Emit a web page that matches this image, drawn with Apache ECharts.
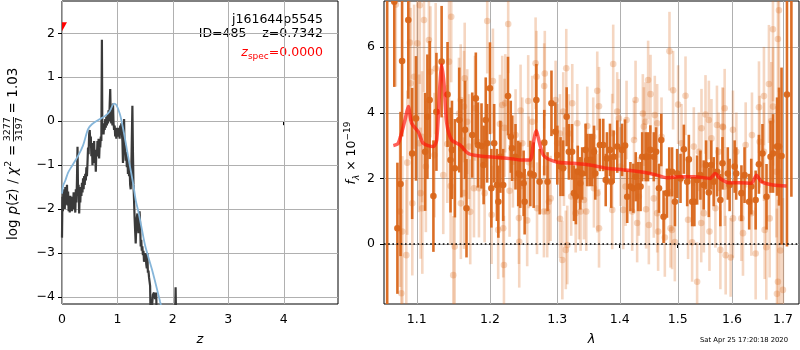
<!DOCTYPE html>
<html>
<head>
<meta charset="utf-8">
<script src="https://cdn.jsdelivr.net/npm/echarts@6/dist/echarts.min.js"></script>
<style>
  html, body { margin: 0; padding: 0; background: #fff; }
  #chart { width: 800px; height: 350px; }
</style>
</head>
<body>
<div id="chart"></div>
<script>
// ---- redshift probability, left panel ----
const zTicks = [0, 1, 2, 3, 4];
const logpTicks = [-4, -3, -2, -1, 0, 1, 2];

const zGrid = [
  0.000, 0.008, 0.016, 0.024, 0.032, 0.040, 0.050, 0.060, 0.070, 0.080,
  0.090, 0.100, 0.110, 0.120, 0.130, 0.140, 0.150, 0.160, 0.170, 0.180,
  0.190, 0.200, 0.210, 0.220, 0.230, 0.240, 0.250, 0.260, 0.270, 0.280,
  0.290, 0.300, 0.310, 0.320, 0.330, 0.340, 0.350, 0.360, 0.370, 0.380,
  0.390, 0.400, 0.410, 0.420, 0.430, 0.440, 0.450, 0.460, 0.470, 0.480,
  0.490, 0.500, 0.510, 0.520, 0.530, 0.540, 0.550, 0.560, 0.570, 0.580,
  0.590, 0.600, 0.610, 0.620, 0.630, 0.640, 0.650, 0.660, 0.670, 0.680,
  0.690, 0.700, 0.710, 0.720, 0.728, 0.740, 0.750, 0.760, 0.770, 0.780,
  0.790, 0.800, 0.810, 0.820, 0.830, 0.840, 0.850, 0.860, 0.870, 0.880,
  0.890, 0.900, 0.910, 0.920, 0.930, 0.940, 0.950, 0.960, 0.970, 0.980,
  0.990, 1.000, 1.010, 1.020, 1.030, 1.040, 1.050, 1.060, 1.070, 1.080,
  1.090, 1.100, 1.110, 1.120, 1.130, 1.140, 1.150, 1.160, 1.170, 1.180,
  1.190, 1.200, 1.210, 1.220, 1.230, 1.240, 1.250, 1.260, 1.270, 1.280,
  1.290, 1.300, 1.310, 1.320, 1.330, 1.340, 1.350, 1.360, 1.370, 1.380,
  1.390, 1.400, 1.410, 1.420, 1.430, 1.440, 1.450, 1.460, 1.470, 1.480,
  1.490, 1.500, 1.510, 1.520, 1.530, 1.540, 1.550, 1.560, 1.570, 1.580,
  1.590, 1.600, 1.620, 1.640, 1.660, 1.680, 1.700, 1.710, 1.800, 1.900,
  2.000, 2.040, 2.050, 2.060, 2.200
];
const logPz = [
  -2.65, -1.72, -2.05, -1.62, -1.95, -1.55, -2.00, -1.50, -1.90, -1.62,
  -1.45, -1.92, -1.60, -2.05, -1.75, -2.08, -1.70, -1.98, -1.78, -2.05,
  -1.72, -1.95, -1.62, -2.00, -1.80, -2.08, -1.55, -1.85, -1.35, -0.58,
  -1.70, -1.45, -2.10, -1.60, -1.85, -1.50, -1.70, -1.40, -1.62, -1.30,
  -1.55, -1.25, -1.45, -1.20, -1.35, -1.05, -1.25, -0.95, -0.60, -0.75,
  -0.30, -0.20, -0.45, -0.35, -0.80, -0.50, -1.00, -0.55, -0.85, -0.45,
  -0.95, -0.75, -1.15, -0.65, -0.80, -0.45, -0.70, -0.40, -0.85, -0.50,
  -0.60, -0.35, -0.45, 1.85, -0.30, -0.05, -0.30, -0.10, -0.20, 0.05,
  -0.15, 0.10, -0.10, 0.15, -0.05, 0.25, 0.00, 0.35, 0.73, 0.05,
  -0.05, 0.20, -0.10, 0.40, -0.05, -0.20, -0.10, -0.35, -0.15, -0.40,
  -0.20, -0.30, -0.15, -0.35, -0.20, -0.40, -0.10, -0.30, -0.05, -0.25,
  -0.45, -0.95, -0.60, 0.05, -0.75, -0.55, -0.90, -0.70, -1.05, -0.80,
  -1.20, -0.90, -1.25, -1.05, -1.45, -1.55, -1.20, -0.40, 0.35, -0.70,
  -1.45, -1.80, -2.20, -2.50, -2.78, -2.40, -2.20, -2.10, -2.30, -2.55,
  -2.20, -2.05, -2.35, -2.85, -2.70, -2.95, -2.85, -3.05, -2.95, -3.20,
  -3.05, -3.15, -3.00, -3.25, -3.35, -3.00, -3.45, -3.40, -3.55, -3.65,
  -3.75, -4.60, -4.60, -3.95, -3.90, -4.05, -3.90, -4.60, -4.80, -4.80,
  -4.80, -4.60, -3.78, -4.60, -4.80
];

const zSmooth = [
  0.00, 0.02, 0.06, 0.11, 0.18, 0.29, 0.38, 0.47, 0.54, 0.66,
  0.78, 0.86, 0.94, 0.98, 1.04, 1.08, 1.13, 1.17, 1.23, 1.29,
  1.33, 1.38, 1.44, 1.50, 1.56, 1.62, 1.70, 1.77, 1.85
];
const logPzSmooth = [
  -1.65, -1.47, -1.35, -1.17, -1.02, -0.79, -0.55, -0.18, -0.07, 0.03,
  0.12, 0.22, 0.40, 0.37, 0.18, -0.03, -0.35, -0.64, -1.05, -1.47,
  -1.80, -2.07, -2.45, -2.83, -3.10, -3.36, -3.75, -4.11, -4.50
];
const zSpec = 0.0;

// ---- 1D spectrum, right panel ----
const lamTicks = [1.1, 1.2, 1.3, 1.4, 1.5, 1.6, 1.7];
const fluxTicks = [0, 2, 4, 6];

// spectrum bins with good weight
const specLam = [
  1.062, 1.071, 1.075, 1.079, 1.081, 1.089, 1.094, 1.099, 1.111, 1.114,
  1.117, 1.122, 1.126, 1.133, 1.141, 1.145, 1.147, 1.151, 1.157, 1.160,
  1.165, 1.167,
  1.175, 1.180, 1.183, 1.188, 1.191, 1.194, 1.196, 1.200, 1.202, 1.206,
  1.210, 1.212, 1.215, 1.219, 1.226, 1.230, 1.232, 1.237, 1.241, 1.244,
  1.249, 1.2505, 1.259, 1.264, 1.268, 1.273, 1.280, 1.285, 1.291,
  1.297, 1.300, 1.305, 1.309, 1.3145, 1.318, 1.323, 1.326, 1.329, 1.332,
  1.336, 1.339, 1.3445, 1.347, 1.351, 1.355, 1.358, 1.360, 1.3675, 1.373,
  1.377, 1.379, 1.384, 1.386, 1.390, 1.396, 1.404, 1.409, 1.4126, 1.418,
  1.423, 1.427, 1.431,
  1.4352, 1.438, 1.444, 1.448, 1.452, 1.458, 1.462, 1.467, 1.471, 1.475,
  1.481, 1.485, 1.490, 1.495, 1.499, 1.505, 1.511, 1.517, 1.520, 1.526,
  1.530, 1.535, 1.541, 1.547, 1.5515, 1.5565, 1.561, 1.5655, 1.572, 1.578,
  1.582,
  1.592, 1.5955, 1.605, 1.608, 1.618, 1.624, 1.633, 1.637, 1.6456, 1.652,
  1.659, 1.667, 1.675, 1.680, 1.688, 1.692, 1.697, 1.708, 1.717
];
const specFlux = [
  10.0, 7.39, 0.48, 1.83, 5.58, 6.83, 2.76, 3.83, 2.81, 3.88,
  4.39, 1.46, 4.03, 5.56, 4.56, 2.56, 2.87, 2.31, 3.78, 2.92,
  3.48, 1.09,
  3.32, 4.44, 3.02, 2.99, 2.41, 3.78, 3.07, 4.75, 1.70, 3.07,
  1.80, 1.29, 2.66, 1.80, 4.51, 3.27, 2.92, 2.66, 2.15, 2.10,
  1.85, 1.29, 2.15, 2.10, 4.39, 1.90, 3.09, 1.90, 4.29,
  3.42, 2.71, 2.36, 2.31, 3.88, 2.81, 2.81, 1.55, 1.45, 2.20,
  1.85, 2.15, 2.87, 2.56, 2.56, 2.56, 2.81, 2.15, 3.02, 3.02,
  1.95, 2.61, 2.87, 1.90, 2.66, 2.97, 2.87, 3.00, 1.44, 1.75,
  1.70, 2.05, 1.75,
  1.75, 2.66, 2.66, 2.66, 2.87, 2.66, 2.81, 1.70, 3.17, 0.83,
  1.55, 2.20, 2.20, 1.29, 2.15, 2.00, 2.89, 1.90, 2.58, 1.29,
  1.29, 1.95, 2.10, 1.80, 2.41, 1.57, 2.41, 1.90, 2.20, 1.34,
  2.46,
  2.15, 1.80, 2.36, 2.15, 1.55, 2.10, 1.29, 1.75, 1.34, 2.43,
  2.76, 1.44, 2.66, 2.76, 2.97, 2.97, 2.68, 4.56, 9.20
];
const specErr = [
  13.0, 2.6, 2.0, 2.2, 2.3, 2.4, 2.0, 1.9, 1.8, 1.9,
  1.8, 1.7, 1.8, 1.7, 1.6, 1.6, 1.5, 1.5, 1.6, 1.5,
  1.5, 1.5,
  1.3, 1.4, 1.3, 1.3, 1.2, 1.3, 1.2, 1.4, 1.2, 1.2,
  1.1, 1.1, 1.1, 1.1, 1.2, 1.1, 1.0, 1.0, 1.0, 1.0,
  1.0, 1.0, 1.0, 1.0, 1.1, 1.0, 1.0, 0.9, 1.0,
  0.9, 0.9, 0.9, 0.85, 0.9, 0.85, 0.85, 0.85, 0.85, 0.8,
  0.8, 0.8, 0.8, 0.8, 0.8, 0.8, 0.8, 0.8, 0.8, 0.8,
  0.8, 0.8, 0.8, 0.8, 0.8, 0.8, 0.8, 0.8, 0.8, 0.75,
  0.75, 0.75, 0.75,
  0.75, 0.75, 0.75, 0.75, 0.75, 0.75, 0.75, 0.75, 0.8, 0.8,
  0.75, 0.75, 0.75, 0.75, 0.75, 0.75, 0.75, 0.75, 0.75, 0.75,
  0.75, 0.75, 0.75, 0.75, 0.75, 0.75, 0.75, 0.75, 0.75, 0.8,
  0.8,
  0.8, 0.8, 0.8, 0.8, 0.85, 0.85, 0.85, 0.85, 0.9, 0.9,
  0.9, 1.0, 1.1, 1.2, 1.5, 1.8, 2.7, 4.64, 7.76
];

// remaining (down-weighted) bins
const bgLam = [
  1.073, 1.1095, 1.104, 1.146, 1.091, 1.1007, 1.116, 1.092, 1.0965, 1.118,
  1.125, 1.143, 1.1645, 1.159, 1.1635, 1.1566, 1.168, 1.103, 1.107, 1.1406,
  1.1234, 1.1352, 1.0877, 1.112, 1.1452, 1.105, 1.1073, 1.0783, 1.0813, 1.0942,
  1.1592, 1.1636, 1.0864, 1.1507, 1.1488, 1.0800,
  1.1961, 1.2263, 1.2042, 1.2669, 1.2682, 1.2799, 1.2808, 1.1788, 1.2176, 1.2220,
  1.2558, 1.2445, 1.2618, 1.2143, 1.2210, 1.2371, 1.2470, 1.1706, 1.2332, 1.2567,
  1.1774, 1.1844, 1.1924, 1.2283, 1.2897, 1.2871, 1.1722, 1.2024, 1.2420, 1.2543,
  1.2690, 1.2795, 1.2845, 1.2118, 1.2191, 1.2425, 1.2201,
  1.3139, 1.3893, 1.3632, 1.3660, 1.2974, 1.3233, 1.3092, 1.3959, 1.4267, 1.4115,
  1.3312, 1.3471, 1.3987, 1.3041, 1.3181, 1.3567, 1.3876, 1.4241, 1.2999, 1.4015,
  1.3103, 1.3634, 1.3578, 1.3216, 1.3338, 1.3418, 1.4099, 1.4210, 1.4059, 1.3877,
  1.3287, 1.3365, 1.3455, 1.3042, 1.3661, 1.4294, 1.3155, 1.3132, 1.3078,
  1.4854, 1.4918, 1.5140, 1.4482, 1.4523, 1.5007, 1.4391, 1.4437, 1.4408, 1.4638,
  1.4714, 1.4597, 1.5504, 1.5430, 1.5566, 1.5716, 1.5823, 1.5068, 1.5290, 1.5381,
  1.5614, 1.5748, 1.4323, 1.4447, 1.4494, 1.4580, 1.4639, 1.4772, 1.4872, 1.4900,
  1.4949, 1.4655, 1.5186, 1.5425, 1.5577, 1.5259, 1.5350, 1.5780, 1.5687, 1.5473,
  1.6918, 1.6798, 1.6897, 1.6718, 1.6619, 1.6800, 1.6521, 1.5861, 1.5829, 1.6018,
  1.6384, 1.6765, 1.6262, 1.6534, 1.6083, 1.6620, 1.6866, 1.5862, 1.6019, 1.6179,
  1.6372, 1.6633, 1.6210, 1.6732, 1.5880, 1.5974, 1.6456, 1.6666, 1.6945, 1.6898,
  1.6878, 1.6998
];
const bgFlux = [
  7.30, 6.83, 7.28, 6.93, 6.14, 6.12, 6.22, 4.90, 5.10, 5.25,
  5.35, 5.56, 5.05, 4.39, 4.19, 3.98, 3.73, 3.07, 3.27, 3.05,
  2.71, 2.10, 2.48, 2.36, 1.77, 1.55, 1.09, 0.99, 0.38, 1.24,
  1.24, 1.55, -0.34, -0.08, -0.95, -1.50,
  6.80, 6.71, 4.97, 5.51, 5.10, 4.82, 5.20, 4.14, 4.24, 4.29,
  4.36, 4.07, 3.73, 3.66, 3.54, 3.32, 3.07, 2.97, 2.51, 2.49,
  1.70, 1.70, 1.55, 1.62, 1.39, 1.29, 0.98, 0.89, 0.79, 0.72,
  1.09, 0.99, 0.99, 0.43, 0.48, 0.07, -0.64,
  5.36, 5.49, 4.67, 4.20, 4.39, 4.29, 4.04, 4.04, 4.39, 3.78,
  3.68, 3.60, 3.83, 3.37, 3.37, 3.27, 3.38, 3.17, 3.07, 2.36,
  2.36, 1.55, 1.70, 1.45, 1.34, 1.34, 1.75, 0.99, 1.04, 1.04,
  0.94, 0.99, 0.99, 0.77, 0.48, 0.64, -0.03, -0.18, -0.49,
  5.88, 4.69, 4.52, 5.00, 4.57, 4.25, 3.98, 3.73, 3.58, 3.68,
  3.27, 3.93, 3.95, 3.53, 3.78, 3.63, 3.58, 3.07, 2.97, 2.81,
  3.22, 2.81, 1.45, 1.06, 0.58, 1.39, 0.94, 0.20, 0.48, 0.43,
  0.06, 0.38, 0.74, 0.64, 0.38, 0.05, -1.15, -0.18, 1.09, 0.94,
  7.13, 6.55, 6.25, 4.88, 4.51, 4.19, 4.17, 4.14, 3.56, 3.48,
  3.32, 3.75, 3.02, 3.12, 2.81, 2.81, 2.20, 1.75, 0.78, 0.78,
  0.94, 0.43, 0.33, 0.78, -0.34, -0.41, -0.29, -0.10, -0.20, -1.15,
  -1.52, -1.40
];
const bgErr = [
  2.5, 2.2, 2.4, 2.0, 2.4, 2.2, 2.1, 2.3, 2.2, 2.0,
  2.0, 1.9, 1.7, 1.7, 1.7, 1.7, 1.6, 2.1, 2.0, 1.8,
  1.9, 1.8, 2.2, 2.0, 1.8, 2.0, 2.0, 2.3, 2.3, 2.2,
  1.7, 1.7, 2.3, 1.8, 1.8, 2.4,
  1.6, 1.5, 1.6, 1.4, 1.4, 1.3, 1.3, 1.6, 1.5, 1.5,
  1.4, 1.4, 1.4, 1.5, 1.5, 1.4, 1.4, 1.6, 1.4, 1.4,
  1.5, 1.5, 1.5, 1.4, 1.3, 1.3, 1.6, 1.5, 1.4, 1.4,
  1.4, 1.4, 1.4, 1.5, 1.5, 1.4, 1.5,
  1.2, 1.2, 1.2, 1.2, 1.2, 1.2, 1.2, 1.2, 1.2, 1.2,
  1.2, 1.2, 1.2, 1.2, 1.2, 1.2, 1.2, 1.2, 1.2, 1.2,
  1.2, 1.2, 1.2, 1.2, 1.2, 1.2, 1.2, 1.2, 1.2, 1.2,
  1.2, 1.2, 1.2, 1.2, 1.2, 1.2, 1.2, 1.2, 1.2,
  1.2, 1.2, 1.2, 1.2, 1.2, 1.2, 1.2, 1.2, 1.2, 1.2,
  1.2, 1.2, 1.2, 1.2, 1.2, 1.2, 1.2, 1.2, 1.2, 1.2,
  1.2, 1.2, 1.2, 1.2, 1.2, 1.2, 1.2, 1.2, 1.2, 1.2,
  1.2, 1.2, 1.2, 1.2, 1.2, 1.2, 1.2, 1.2, 1.2, 1.2,
  2.5, 2.2, 2.2, 1.8, 1.5, 1.8, 1.4, 1.2, 1.2, 1.2,
  1.3, 1.8, 1.3, 1.4, 1.2, 1.5, 2.0, 1.2, 1.2, 1.3,
  1.3, 1.5, 1.3, 1.8, 1.2, 1.2, 1.4, 1.6, 2.5, 2.5,
  2.6, 2.8
];

// best-fit template
const modelLam = [
  1.0698, 1.0761, 1.0847, 1.0890, 1.0934, 1.1020, 1.1086, 1.1218, 1.1264, 1.1308,
  1.1331, 1.1362, 1.1399, 1.1466, 1.1580, 1.1695, 1.1859, 1.2144, 1.2338, 1.2450,
  1.2586, 1.2635, 1.2675, 1.2786, 1.2991, 1.3250, 1.3515, 1.3786, 1.4062, 1.4344,
  1.4632, 1.4806, 1.5042, 1.5300, 1.5588, 1.5681, 1.5774, 1.5930, 1.6150, 1.6375,
  1.6472, 1.6570, 1.6800, 1.7071
];
const modelFlux = [
  3.00, 3.07, 3.78, 4.19, 3.68, 3.42, 3.07, 2.97, 3.17, 4.90,
  5.46, 4.90, 3.68, 3.17, 3.02, 2.76, 2.68, 2.64, 2.59, 2.56,
  2.56, 3.07, 3.45, 2.71, 2.50, 2.46, 2.41, 2.31, 2.26, 2.20,
  2.10, 2.02, 2.05, 2.05, 2.00, 2.15, 2.00, 1.87, 1.87, 1.85,
  2.10, 1.90, 1.80, 1.77
];

const FONT = 'DejaVu Sans';
const ORANGE = '#d9661a';
const GRID_GREY = '#b0b0b0';
const minus = v => String(v).replace('-', '\u2212');

function errorBars(color, opacity, barWidth, radius) {
  return function (params, api) {
    const x = api.value(0), y = api.value(1), e = api.value(2);
    const hi = api.coord([x, y + e]);
    const lo = api.coord([x, y - e]);
    const c = api.coord([x, y]);
    return {
      type: 'group',
      children: [
        { type: 'line', shape: { x1: hi[0], y1: hi[1], x2: lo[0], y2: lo[1] },
          style: { stroke: color, lineWidth: barWidth, opacity: opacity } },
        { type: 'circle', shape: { cx: c[0], cy: c[1], r: radius },
          style: { fill: color, opacity: opacity } }
      ]
    };
  };
}

// grid lines drawn at the tick values of one axis, spanning the whole plot box
function gridLines(dir) {
  return function (params, api) {
    const cs = params.coordSys;
    const p = api.coord([api.value(0), api.value(1)]);
    if (dir === 'h') {
      const y = Math.round(p[1]);
      return { type: 'rect', shape: { x: cs.x, y: y, width: cs.width, height: 1 },
               style: { fill: GRID_GREY } };
    }
    const x = Math.round(p[0]);
    return { type: 'rect', shape: { x: x, y: cs.y, width: 1, height: cs.height },
             style: { fill: GRID_GREY } };
  };
}

const tickStyle = { show: true, length: 4, inside: false, lineStyle: { color: '#000', width: 1 } };
const labelBase = { color: '#000', fontFamily: FONT, fontSize: 12.5 };

const lnLamTicks = lamTicks.map(Math.log);

// rotated pieces of the left-hand axis title, read bottom to top
function vtext(x, y, text, size, italic) {
  return { type: 'text', x: x, y: y, rotation: Math.PI / 2,
    style: { text: text, fontFamily: FONT, fontSize: size, fontStyle: italic ? 'italic' : 'normal',
             fill: '#000', align: 'center', verticalAlign: 'middle' } };
}
const YL = 13.5;

const chart = echarts.init(document.getElementById('chart'), null, { renderer: 'canvas' });
chart.setOption({
  backgroundColor: '#fff',
  animation: false,
  grid: [
    { left: 62, top: 1, width: 276, height: 303, show: true, borderColor: '#000', borderWidth: 1, backgroundColor: 'transparent' },
    { left: 384, top: 1, width: 415, height: 303, show: true, borderColor: '#000', borderWidth: 1, backgroundColor: 'transparent' }
  ],
  xAxis: [
    {
      gridIndex: 0, type: 'value', min: 0, max: 4.98,
      axisLine: { show: false },
      axisTick: Object.assign({ customValues: zTicks }, tickStyle),
      axisLabel: Object.assign({ customValues: zTicks, margin: 9, formatter: v => minus(v) }, labelBase),
      splitLine: { show: false }
    },
    {
      gridIndex: 1, type: 'value', min: Math.log(1.058), max: Math.log(1.7326),
      axisLine: { show: false },
      axisTick: Object.assign({ customValues: lnLamTicks }, tickStyle),
      axisLabel: Object.assign({ customValues: lnLamTicks, margin: 9, formatter: v => Math.exp(v).toFixed(1) }, labelBase),
      splitLine: { show: false }
    }
  ],
  yAxis: [
    {
      gridIndex: 0, type: 'value', min: -4.16, max: 2.734,
      axisLine: { show: false },
      axisTick: Object.assign({ customValues: logpTicks }, tickStyle),
      axisLabel: Object.assign({ customValues: logpTicks, margin: 7, formatter: v => minus(v) }, labelBase),
      splitLine: { show: false }
    },
    {
      gridIndex: 1, type: 'value', min: -1.83, max: 7.41,
      axisLine: { show: false },
      axisTick: Object.assign({ customValues: fluxTicks }, tickStyle),
      axisLabel: Object.assign({ customValues: fluxTicks, margin: 9, formatter: v => minus(v) }, labelBase),
      splitLine: { show: false }
    }
  ],
  series: [
    // grid lines
    { type: 'custom', xAxisIndex: 0, yAxisIndex: 0, silent: true, z: 1,
      data: zTicks.map(v => [v, logpTicks[0]]), renderItem: gridLines('v') },
    { type: 'custom', xAxisIndex: 0, yAxisIndex: 0, silent: true, z: 1,
      data: logpTicks.map(v => [zTicks[0], v]), renderItem: gridLines('h') },
    { type: 'custom', xAxisIndex: 1, yAxisIndex: 1, silent: true, z: 1,
      data: lnLamTicks.map(v => [v, fluxTicks[0]]), renderItem: gridLines('v') },
    { type: 'custom', xAxisIndex: 1, yAxisIndex: 1, silent: true, z: 1,
      data: fluxTicks.map(v => [lnLamTicks[0], v]), renderItem: gridLines('h') },

    {
      name: 'log p(z)', type: 'line', xAxisIndex: 0, yAxisIndex: 0,
      data: zGrid.map((z, i) => [z, logPz[i]]),
      showSymbol: false, clip: true, z: 3,
      lineStyle: { color: '#3a3a3a', width: 2.2 }
    },
    {
      name: 'prior-smoothed', type: 'line', xAxisIndex: 0, yAxisIndex: 0,
      data: zSmooth.map((z, i) => [z, logPzSmooth[i]]),
      showSymbol: false, clip: true, smooth: 0.3, z: 4,
      lineStyle: { color: '#86b6da', width: 1.8 }
    },
    {
      name: 'z_spec', type: 'custom', xAxisIndex: 0, yAxisIndex: 0, clip: true, z: 5,
      data: [[zSpec, 2.15]],
      renderItem: function (params, api) {
        const c = api.coord([api.value(0), api.value(1)]);
        return {
          type: 'polygon',
          shape: { points: [[c[0] - 5, c[1] - 4.5], [c[0] + 5, c[1] - 4.5], [c[0], c[1] + 4.5]] },
          style: { fill: '#ff0000' }
        };
      }
    },
    {
      name: 'down-weighted', type: 'custom', xAxisIndex: 1, yAxisIndex: 1, clip: true, z: 2,
      data: bgLam.map((l, i) => [Math.log(l), bgFlux[i], bgErr[i]]),
      renderItem: errorBars(ORANGE, 0.27, 2.6, 3.3)
    },
    {
      name: 'spectrum', type: 'custom', xAxisIndex: 1, yAxisIndex: 1, clip: true, z: 3,
      data: specLam.map((l, i) => [Math.log(l), specFlux[i], specErr[i]]),
      renderItem: errorBars(ORANGE, 0.95, 2.6, 3.3)
    },
    {
      name: 'model', type: 'line', xAxisIndex: 1, yAxisIndex: 1, z: 4,
      data: modelLam.map((l, i) => [Math.log(l), modelFlux[i]]),
      showSymbol: false, clip: true, smooth: 0.25,
      lineStyle: { color: 'rgba(255,20,10,0.68)', width: 3.5 },
      markLine: {
        silent: true, symbol: 'none', z: 6,
        label: { show: false },
        lineStyle: { color: '#000', width: 1.6, type: [1.6, 2.6] },
        data: [{ yAxis: 0 }]
      }
    }
  ],
  graphic: [
    { type: 'text', x: 323, y: 20, style: { text: 'j161644p5545', fontFamily: FONT, fontSize: 12.5, fill: '#000', align: 'right', verticalAlign: 'middle' } },
    { type: 'text', x: 323, y: 34, style: { text: 'ID=485    z=0.7342', fontFamily: FONT, fontSize: 12.5, fill: '#000', align: 'right', verticalAlign: 'middle' } },
    { type: 'text', x: 323, y: 53, style: {
        text: '{a|z}{b|spec}{c|=0.0000}', align: 'right', verticalAlign: 'middle',
        rich: {
          a: { fontFamily: FONT, fontSize: 12.5, fontStyle: 'italic', fill: '#ff0000', lineHeight: 16, verticalAlign: 'middle' },
          b: { fontFamily: FONT, fontSize: 9, fill: '#ff0000', lineHeight: 16, verticalAlign: 'bottom' },
          c: { fontFamily: FONT, fontSize: 12.5, fill: '#ff0000', lineHeight: 16, verticalAlign: 'middle' }
        } } },
    // axis titles
    { type: 'text', x: 200, y: 340, style: { text: 'z', fontFamily: FONT, fontSize: 13, fontStyle: 'italic', fill: '#000', align: 'center', verticalAlign: 'middle' } },
    { type: 'text', x: 591.5, y: 340, style: { text: 'λ', fontFamily: FONT, fontSize: 13, fontStyle: 'italic', fill: '#000', align: 'center', verticalAlign: 'middle' } },
    // left y title:  log p(z) / chi^2 = 3277/3197 = 1.03
    vtext(13, 229.6, 'log', YL, false),
    { type: 'text', x: 13, y: 201.5, rotation: Math.PI / 2, style: {
        text: '{i|p}{r|(}{i|z}{r|)}', align: 'center', verticalAlign: 'middle',
        rich: { i: { fontFamily: FONT, fontSize: YL, fontStyle: 'italic', fill: '#000' },
                r: { fontFamily: FONT, fontSize: YL, fill: '#000' } } } },
    vtext(13, 181.5, '/', YL, false),
    vtext(13, 171.2, 'χ', YL, true),
    vtext(8.5, 163.8, '2', 9.5, false),
    vtext(13, 150.3, '=', YL, false),
    vtext(7.5, 129.2, '3277', 9.5, false),
    { type: 'line', shape: { x1: 13.5, y1: 141.5, x2: 13.5, y2: 117 }, style: { stroke: '#000', lineWidth: 0.9 } },
    vtext(19.5, 129.2, '3197', 9.5, false),
    vtext(13, 107.9, '=', YL, false),
    vtext(13, 82.6, '1.03', YL, false),
    // right y title
    { type: 'text', x: 352, y: 153, rotation: Math.PI / 2, style: {
        text: '{f|f}{s|λ}{n| × 10}{e|\u221219}', align: 'center', verticalAlign: 'middle',
        rich: {
          f: { fontFamily: FONT, fontSize: 12.5, fontStyle: 'italic', fill: '#000', lineHeight: 18, verticalAlign: 'middle' },
          s: { fontFamily: FONT, fontSize: 9, fontStyle: 'italic', fill: '#000', lineHeight: 18, verticalAlign: 'bottom' },
          n: { fontFamily: FONT, fontSize: 12.5, fill: '#000', lineHeight: 18, verticalAlign: 'middle' },
          e: { fontFamily: FONT, fontSize: 9, fill: '#000', lineHeight: 18, verticalAlign: 'top' }
        } } },
    // timestamp
    { type: 'text', x: 788, y: 340, style: { text: 'Sat Apr 25 17:20:18 2020', fontFamily: FONT, fontSize: 6.8, fill: '#000', align: 'right', verticalAlign: 'middle' } }
  ]
});
</script>
</body>
</html>
